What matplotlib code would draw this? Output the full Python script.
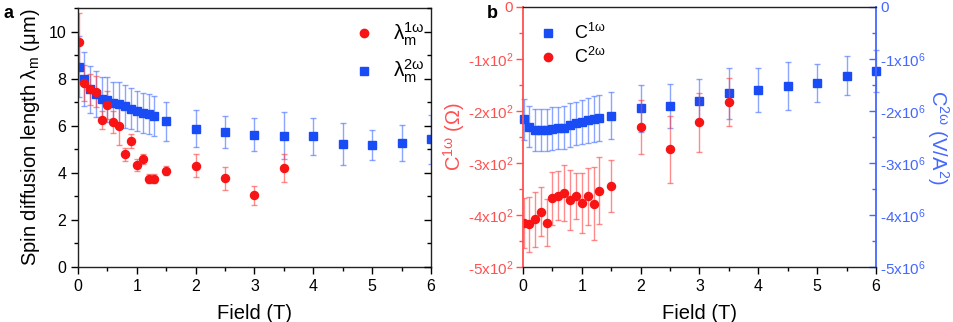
import matplotlib
matplotlib.use("Agg")
import matplotlib.pyplot as plt
from matplotlib.ticker import MultipleLocator, FixedLocator, FixedFormatter
from matplotlib.lines import Line2D

plt.rcParams['font.family'] = ['Liberation Sans', 'DejaVu Sans']
plt.rcParams['mathtext.fontset'] = 'custom'
plt.rcParams['mathtext.rm'] = 'Liberation Sans'
plt.rcParams['mathtext.it'] = 'Liberation Sans:italic'
plt.rcParams['mathtext.bf'] = 'Liberation Sans:bold'

# ---------------- Panel a data ----------------
field_a1 = [0.02, 0.1, 0.2, 0.3, 0.4, 0.5, 0.6, 0.7, 0.8, 0.9, 1.0, 1.1, 1.2, 1.3, 1.5, 2.0, 2.5, 3.0, 3.5]
lam1 = [9.57, 7.82, 7.54, 7.45, 6.24, 6.88, 6.16, 6.0, 4.79, 5.36, 4.34, 4.58, 3.75, 3.75, 4.09, 4.31, 3.76, 3.05, 4.19]
lam1_err = [1.2, 0.75, 0.65, 0.65, 0.38, 0.6, 0.45, 0.8, 0.28, 0.3, 0.25, 0.22, 0.2, 0.2, 0.2, 0.47, 0.48, 0.4, 0.6]

field_a2 = [0.02, 0.1, 0.2, 0.3, 0.4, 0.5, 0.6, 0.7, 0.8, 0.9, 1.0, 1.1, 1.2, 1.3, 1.5, 2.0, 2.5, 3.0, 3.5, 4.0, 4.5, 5.0, 5.5, 6.0]
lam2 = [8.5, 8.0, 7.55, 7.35, 7.12, 7.1, 6.97, 6.93, 6.82, 6.73, 6.62, 6.56, 6.5, 6.41, 6.18, 5.87, 5.72, 5.61, 5.58, 5.55, 5.22, 5.18, 5.25, 5.42]
lam2_err = [1.3, 1.15, 1.0, 0.97, 0.93, 0.95, 0.9, 0.92, 0.9, 0.88, 0.85, 0.85, 0.85, 0.85, 0.82, 0.79, 0.68, 0.7, 1.0, 0.79, 0.88, 0.62, 0.76, 1.05]

# ---------------- Panel b data ----------------
field_b_blue = [0.02, 0.1, 0.2, 0.3, 0.4, 0.5, 0.6, 0.7, 0.8, 0.9, 1.0, 1.1, 1.2, 1.3, 1.5, 2.0, 2.5, 3.0, 3.5, 4.0, 4.5, 5.0, 5.5, 6.0]
c_blue = [-2.16, -2.30, -2.36, -2.36, -2.36, -2.34, -2.33, -2.32, -2.27, -2.24, -2.21, -2.18, -2.16, -2.13, -2.09, -1.95, -1.91, -1.80, -1.66, -1.59, -1.52, -1.46, -1.32, -1.23]
c_blue_err = [0.40, 0.39, 0.40, 0.40, 0.40, 0.41, 0.41, 0.42, 0.42, 0.42, 0.43, 0.43, 0.44, 0.44, 0.45, 0.45, 0.42, 0.42, 0.49, 0.42, 0.46, 0.36, 0.38, 0.40]

field_b_red = [0.02, 0.1, 0.2, 0.3, 0.4, 0.5, 0.6, 0.7, 0.8, 0.9, 1.0, 1.1, 1.2, 1.3, 1.5, 2.0, 2.5, 3.0, 3.5]
c_red = [-415, -418, -408, -394, -415, -368, -363, -357, -371, -363, -377, -364, -378, -353, -345, -231, -274, -222, -182]
c_red_err = [48, 53, 53, 47, 45, 51, 47, 54, 57, 44, 58, 55, 71, 65, 50, 52, 65, 56, 46]

left_ticks = [0, -100, -200, -300, -400, -500]
left_ticklabels = ['0', '-1x10$^\\mathrm{2}$', '-2x10$^\\mathrm{2}$', '-3x10$^\\mathrm{2}$', '-4x10$^\\mathrm{2}$', '-5x10$^\\mathrm{2}$']
right_ticks = [0, -1, -2, -3, -4, -5]
right_ticklabels = ['0', '-1x10$^\\mathrm{6}$', '-2x10$^\\mathrm{6}$', '-3x10$^\\mathrm{6}$', '-4x10$^\\mathrm{6}$', '-5x10$^\\mathrm{6}$']

RED = '#f81414'
BLUE = '#1a4cf5'
RED_E = (1.0, 0.25, 0.25, 0.6)
BLUE_E = (0.25, 0.42, 1.0, 0.6)
RED_AX = '#ff5050'
BLUE_AX = '#4468ff'

W, H = 954, 322
fig = plt.figure(figsize=(W / 100, H / 100), dpi=100)

def ax_rect(l, r, t, b):
    return [l / W, 1 - b / H, (r - l) / W, (b - t) / H]

# ================= Panel a =================
axa = fig.add_axes(ax_rect(78, 431, 8, 267))
axa.errorbar(field_a2, lam2, yerr=lam2_err, fmt='s', color=BLUE, ms=5.2, mec=BLUE,
             ecolor=BLUE_E, elinewidth=1.0, capsize=2.5, capthick=1.0)
axa.errorbar(field_a1, lam1, yerr=lam1_err, fmt='o', color=RED, ms=5.8, mec=RED,
             ecolor=RED_E, elinewidth=1.0, capsize=2.5, capthick=1.0)
axa.set_xlim(0, 6)
axa.set_ylim(0, 11)
axa.xaxis.set_major_locator(MultipleLocator(1))
axa.xaxis.set_minor_locator(MultipleLocator(0.5))
axa.yaxis.set_major_locator(MultipleLocator(2))
axa.yaxis.set_minor_locator(MultipleLocator(1))
axa.tick_params(axis='both', which='major', direction='out', length=5, width=1, labelsize=11.5)
axa.tick_params(axis='both', which='minor', direction='out', length=3, width=1)
for s in axa.spines.values():
    s.set_linewidth(1.0)
    s.set_color('#222222')
axa_r = axa.twinx()
axa_r.set_ylim(0, 11)
axa_r.yaxis.set_major_locator(MultipleLocator(2))
axa_r.yaxis.set_minor_locator(MultipleLocator(1))
axa_r.tick_params(axis='y', which='major', direction='in', length=5, width=1, labelright=False)
axa_r.tick_params(axis='y', which='minor', direction='in', length=3, width=1)
for s in axa_r.spines.values():
    s.set_visible(False)

axa.set_xlabel('Field (T)', fontsize=14.5, labelpad=7)
axa.set_ylabel(r'Spin diffusion length $\mathrm{λ}_\mathrm{m}$ (μm)', fontsize=14.5)
axa.yaxis.set_label_coords(-0.102, 0.5)

h_red = Line2D([], [], ls='none', marker='o', color=RED, ms=6)
h_blue = Line2D([], [], ls='none', marker='s', color=BLUE, ms=5.5)
axa.legend([h_red, h_blue], [r'$\mathrm{λ}_\mathrm{m}^\mathrm{1ω}$', r'$\mathrm{λ}_\mathrm{m}^\mathrm{2ω}$'],
           loc='upper right', bbox_to_anchor=(1.035, 1.025), frameon=False, fontsize=15,
           handletextpad=0.9, labelspacing=0.5, handlelength=1.0)

fig.text(4 / W, 1 - 14 / H, 'a', fontsize=13, fontweight='bold', va='center', ha='left')

# ================= Panel b =================
axb = fig.add_axes(ax_rect(523, 876, 7, 267))
ax2 = axb.twinx()
axb.set_zorder(ax2.get_zorder() + 1)
axb.patch.set_visible(False)

ax2.errorbar(field_b_blue, c_blue, yerr=c_blue_err, fmt='s', color=BLUE, ms=5.2, mec=BLUE,
             ecolor=BLUE_E, elinewidth=1.0, capsize=2.5, capthick=1.0, clip_on=False)
axb.errorbar(field_b_red, c_red, yerr=c_red_err, fmt='o', color=RED, ms=5.8, mec=RED,
             ecolor=RED_E, elinewidth=1.0, capsize=2.5, capthick=1.0)

axb.set_xlim(0, 6)
axb.set_ylim(-500, 0)
ax2.set_ylim(-5, 0)
axb.xaxis.set_major_locator(MultipleLocator(1))
axb.xaxis.set_minor_locator(MultipleLocator(0.5))
axb.yaxis.set_major_locator(FixedLocator(left_ticks))
axb.yaxis.set_major_formatter(FixedFormatter(left_ticklabels))
axb.yaxis.set_minor_locator(MultipleLocator(50))
ax2.yaxis.set_major_locator(FixedLocator(right_ticks))
ax2.yaxis.set_major_formatter(FixedFormatter(right_ticklabels))
ax2.yaxis.set_minor_locator(MultipleLocator(0.5))

axb.tick_params(axis='x', which='major', direction='out', length=5, width=1, labelsize=11.5)
axb.tick_params(axis='x', which='minor', direction='out', length=3, width=1)
axb.tick_params(axis='y', which='major', direction='out', length=5, width=1, labelsize=11,
                colors=RED_AX, pad=2)
axb.tick_params(axis='y', which='minor', direction='out', length=3, width=1, colors=RED_AX)
ax2.tick_params(axis='y', which='major', direction='in', length=5, width=1, labelsize=11,
                colors=BLUE_AX, pad=3)
ax2.tick_params(axis='y', which='minor', direction='in', length=3, width=1, colors=BLUE_AX)

for s in axb.spines.values():
    s.set_linewidth(1.0)
    s.set_color('#222222')
axb.spines['left'].set_color(RED_AX)
axb.spines['left'].set_linewidth(1.3)
axb.spines['right'].set_visible(False)
ax2.spines['left'].set_visible(False)
ax2.spines['top'].set_visible(False)
ax2.spines['bottom'].set_visible(False)
ax2.spines['right'].set_color(BLUE_AX)
ax2.spines['right'].set_linewidth(1.3)

axb.set_xlabel('Field (T)', fontsize=14.5, labelpad=7)
axb.set_ylabel(r'$\mathrm{C^{1ω}}$ (Ω)', fontsize=14.5, color=RED_AX)
axb.yaxis.set_label_coords(-0.158, 0.5)
ax2.set_ylabel(r'$\mathrm{C^{2ω}}$ (V/A$^\mathrm{2}$)', fontsize=14.5, color=BLUE_AX,
               rotation=270, va='bottom', ha='center', rotation_mode='anchor')
ax2.yaxis.set_label_coords(1.14, 0.5)

hb = Line2D([], [], ls='none', marker='s', color=BLUE, ms=5.5)
hr = Line2D([], [], ls='none', marker='o', color=RED, ms=6)
axb.legend([hb, hr], [r'$\mathrm{C^{1ω}}$', r'$\mathrm{C^{2ω}}$'], loc='upper left',
           bbox_to_anchor=(0.0, 1.0), frameon=False, fontsize=13,
           handletextpad=0.9, labelspacing=0.2, handlelength=1.0)

fig.text(487 / W, 1 - 14 / H, 'b', fontsize=13, fontweight='bold', va='center', ha='left')

fig.savefig('out.png', dpi=100)
